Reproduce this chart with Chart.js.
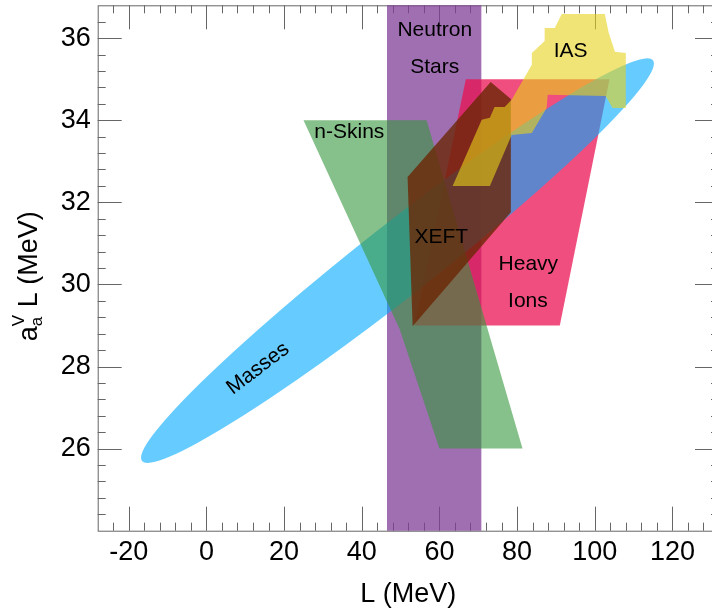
<!DOCTYPE html>
<html>
<head>
<meta charset="utf-8">
<script src="https://cdn.jsdelivr.net/npm/chart.js@4.4.0/dist/chart.umd.min.js"></script>
<style>
  html, body { margin: 0; padding: 0; background: #fff; overflow: hidden; }
  #wrap { position: absolute; left: 0; top: 0; width: 722px; height: 613px; }
</style>
</head>
<body>
<div id="wrap"><canvas id="chart" width="722" height="613"></canvas></div>
<script>
// Tick values on the two axes (MeV)
const xTicks = [-20, 0, 20, 40, 60, 80, 100, 120];
const yTicks = [26, 28, 30, 32, 34, 36];

// Constraint regions as [L, a_a^V L] vertices in MeV
const neutronStars = [[46.5, 23.9], [70.8, 23.9], [70.8, 37], [46.5, 37]];
const heavyIons = [[66.8, 35], [103.8, 35], [91, 29], [53.6, 29]];
const nSkins = [[25, 34], [56.7, 34], [81.4, 26], [60, 26], [49.8, 28.9]];
const xeft = [[51.8, 32.62], [73.2, 34.93], [78.4, 34.52], [78.4, 31.76], [53.1, 28.98]];
const ias = [
  [91.5, 36.59], [102.6, 36.59], [103.6, 36.13], [105.2, 35.67], [108.0, 35.64],
  [108.0, 34.30], [104.6, 34.30], [102.8, 34.59], [87.9, 34.62], [87.6, 34.30],
  [83.8, 33.69], [78.6, 33.64], [73.0, 32.40], [63.4, 32.40], [70.9, 34.01],
  [73.0, 34.06], [74.2, 34.32], [76.8, 34.32], [78.6, 34.50], [83.8, 35.35],
  [83.8, 35.64], [87.1, 35.93], [87.1, 36.25], [89.7, 36.25]
];

// Masses ellipse: centre, end of the long axis, end of the short axis
const massesCentre = [49.2, 30.58];
const massesMajor = [115.0, 35.46];
const massesMinor = [43.5, 31.27];

// Region labels, placed in data coordinates
const regionLabels = [
  { text: 'Neutron', at: [58.8, 36.2] },
  { text: 'Stars', at: [58.8, 35.3] },
  { text: 'IAS', at: [93.8, 35.68] },
  { text: 'n-Skins', at: [36.8, 33.7] },
  { text: 'XEFT', at: [60.5, 31.14] },
  { text: 'Heavy', at: [82.9, 30.5] },
  { text: 'Ions', at: [82.8, 29.6] },
  { text: 'Masses', at: [13.3, 27.95], angle: -37 }
];

const FONT = '"Liberation Sans", Arial, Helvetica, sans-serif';

function closed(vertices) {
  return vertices.concat([vertices[0]]).map(([x, y]) => ({ x: x, y: y }));
}

function region(label, vertices, color, order) {
  return {
    label: label,
    data: closed(vertices),
    showLine: true,
    fill: 'shape',
    backgroundColor: color,
    borderColor: 'rgba(0,0,0,0)',
    borderWidth: 0,
    pointRadius: 0,
    pointHoverRadius: 0,
    tension: 0,
    order: order
  };
}

// frame with inward ticks on all four sides
const framePlugin = {
  id: 'frame',
  beforeDatasetsDraw(chart) {
    const { ctx, chartArea: a, scales: { x, y } } = chart;
    ctx.save();
    ctx.strokeStyle = '#666';
    ctx.lineWidth = 1;
    ctx.strokeRect(a.left + 0.5, a.top + 0.5, a.right - a.left, a.bottom - a.top);
    ctx.beginPath();
    for (let v = -24; v < x.max; v += 4) {
      const len = v % 20 === 0 ? 24 : 8;
      const px = Math.round(x.getPixelForValue(v)) + 0.5;
      ctx.moveTo(px, a.bottom); ctx.lineTo(px, a.bottom - len);
      ctx.moveTo(px, a.top); ctx.lineTo(px, a.top + len);
    }
    for (let i = 1; i < 32; i++) {
      const v = 24 + i * 0.4;
      const len = i % 5 === 0 ? 24 : 8;
      const py = Math.round(y.getPixelForValue(v)) + 0.5;
      ctx.moveTo(a.left, py); ctx.lineTo(a.left + len, py);
      ctx.moveTo(a.right, py); ctx.lineTo(a.right - len, py);
    }
    ctx.stroke();
    ctx.restore();
  }
};

// the Masses ellipse sits just above the Heavy Ions band
const massesPlugin = {
  id: 'masses',
  afterDatasetDraw(chart, args) {
    if (chart.data.datasets[args.index].label !== 'Heavy Ions') return;
    const { ctx, chartArea: a, scales: { x, y } } = chart;
    const px = p => [x.getPixelForValue(p[0]), y.getPixelForValue(p[1])];
    const c = px(massesCentre), m = px(massesMajor), n = px(massesMinor);
    ctx.save();
    ctx.beginPath();
    ctx.rect(a.left, a.top, a.right - a.left, a.bottom - a.top);
    ctx.clip();
    ctx.beginPath();
    ctx.ellipse(c[0], c[1], Math.hypot(m[0] - c[0], m[1] - c[1]),
      Math.hypot(n[0] - c[0], n[1] - c[1]), Math.atan2(m[1] - c[1], m[0] - c[0]), 0, 2 * Math.PI);
    ctx.fillStyle = 'rgba(0,170,255,0.6)';
    ctx.fill();
    ctx.restore();
  }
};

const textPlugin = {
  id: 'texts',
  afterDatasetsDraw(chart) {
    const { ctx, chartArea: a, scales: { x, y } } = chart;
    ctx.save();
    ctx.fillStyle = '#000';
    ctx.textAlign = 'center';
    ctx.textBaseline = 'middle';
    ctx.font = '21px ' + FONT;
    regionLabels.forEach(l => {
      ctx.save();
      ctx.translate(x.getPixelForValue(l.at[0]), y.getPixelForValue(l.at[1]));
      if (l.angle) ctx.rotate(l.angle * Math.PI / 180);
      ctx.fillText(l.text, 0, 0);
      ctx.restore();
    });

    // x axis title
    ctx.font = '27px ' + FONT;
    ctx.textBaseline = 'alphabetic';
    ctx.fillText('L (MeV)', (a.left + a.right) / 2, 602);

    // y axis title: a with sub/superscript, then L (MeV)
    const big = '27px ' + FONT, small = '17px ' + FONT;
    ctx.font = big;
    const wA = ctx.measureText('a').width;
    const wRest = ctx.measureText(' L (MeV)').width;
    ctx.font = small;
    const wS = Math.max(ctx.measureText('a').width, ctx.measureText('V').width);
    const total = wA + wS + wRest;
    ctx.translate(37, y.getPixelForValue(30.2));
    ctx.rotate(-Math.PI / 2);
    ctx.textAlign = 'left';
    let s = -total / 2;
    ctx.font = big;
    ctx.fillText('a', s, 0);
    s += wA;
    ctx.font = small;
    ctx.fillText('a', s, 5);
    ctx.fillText('V', s, -13);
    s += wS;
    ctx.font = big;
    ctx.fillText(' L (MeV)', s, 0);
    ctx.restore();
  }
};

new Chart(document.getElementById('chart'), {
  type: 'scatter',
  data: {
    datasets: [
      region('Neutron Stars', neutronStars, 'rgba(127,63,152,0.75)', 6),
      region('Heavy Ions', heavyIons, 'rgba(233,19,83,0.75)', 5),
      region('n-Skins', nSkins, 'rgba(53,150,60,0.6)', 4),
      region('XEFT', xeft, 'rgba(108,39,6,0.8)', 3),
      region('IAS', ias, 'rgba(232,210,27,0.6)', 2)
    ]
  },
  options: {
    responsive: false,
    animation: false,
    events: [],
    layout: { padding: { top: 5.3, right: 3, left: 0, bottom: 0 } },
    plugins: { legend: { display: false }, tooltip: { enabled: false } },
    scales: {
      x: {
        type: 'linear', min: -28, max: 132,
        grid: { display: false, drawTicks: false },
        border: { display: false },
        afterFit: s => { s.height = 82.3; s.paddingLeft = 0; s.paddingRight = 0; },
        afterBuildTicks: s => { s.ticks = xTicks.map(v => ({ value: v })); },
        ticks: { font: { family: FONT, size: 27 }, color: '#000', padding: 6, maxRotation: 0, autoSkip: false }
      },
      y: {
        type: 'linear', min: 24, max: 36.8,
        grid: { display: false, drawTicks: false },
        border: { display: false },
        afterFit: s => { s.width = 97.7; s.paddingTop = 0; s.paddingBottom = 0; },
        afterBuildTicks: s => { s.ticks = yTicks.map(v => ({ value: v })); },
        ticks: { font: { family: FONT, size: 27 }, color: '#000', padding: 7, autoSkip: false }
      }
    }
  },
  plugins: [framePlugin, massesPlugin, textPlugin]
});
</script>
</body>
</html>
